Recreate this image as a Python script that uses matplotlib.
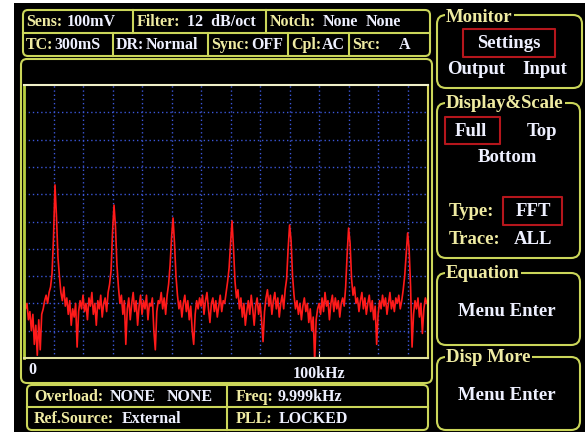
import numpy as np
import matplotlib
matplotlib.use('Agg')
import matplotlib.pyplot as plt
from matplotlib.patches import FancyBboxPatch, Rectangle

# FFT trace of the lock-in display, dB, one value every 0.5 kHz from 0 Hz
bin_khz = 0.5
level_db = [
    -79, -82, -80, -86, -83, -90, -84, -95, -88, -99, -86, -97, -84, -82, -79, -77, -80, -76, -74, -69,
    -56, -36.6, -48, -63, -70, -76, -79, -74, -81, -78, -84, -79, -88, -82, -85, -80, -96, -83, -79, -82,
    -77, -83, -80, -86, -78, -81, -76, -84, -80, -88, -79, -82, -77, -85, -80, -78, -83, -76, -73, -68,
    -54, -44, -52, -66, -74, -80, -77, -84, -79, -95, -82, -78, -86, -80, -76, -83, -79, -88, -81, -77,
    -84, -79, -82, -77, -86, -80, -81, -78, -90, -97, -83, -79, -80, -76, -82, -78, -84, -77, -73, -66,
    -56, -48.7, -58, -70, -77, -82, -79, -85, -80, -77, -83, -79, -86, -81, -90, -95, -84, -79, -82, -78,
    -81, -77, -84, -79, -76, -82, -87, -80, -78, -83, -79, -85, -81, -77, -83, -79, -80, -76, -72, -67,
    -58, -49.8, -60, -72, -78, -75, -82, -78, -85, -80, -88, -83, -79, -84, -77, -82, -88, -81, -78, -84,
    -80, -86, -94, -83, -78, -75, -81, -77, -84, -79, -76, -82, -78, -85, -80, -77, -82, -75, -71, -60,
    -51.3, -57, -70, -77, -82, -79, -84, -80, -86, -81, -78, -83, -80, -87, -82, -90, -85, -101, -86, -82,
    -80, -84, -78, -83, -76, -81, -79, -86, -80, -77, -83, -78, -82, -79, -85, -80, -78, -81, -74, -62,
    -52.4, -58, -71, -77, -74, -80, -78, -83, -79, -76, -82, -78, -84, -80, -77, -83, -79, -86, -81, -95,
    -84, -79, -82, -77, -81, -78, -84, -80, -76, -82, -79, -83, -78, -80, -77, -82, -79, -75, -70, -62,
    -54.2, -60, -74, -96, -84, -79, -82, -78, -85, -80, -91, -82, -78, -80,
]
span_khz = 136.9
grid_khz = [10, 20, 30, 40, 50, 60, 70, 80, 90, 100, 110, 120, 130]
grid_db = [-10, -20, -30, -40, -50, -60, -70, -80, -90]

EDGE = '#cbd65a'
LABEL = '#efeba2'
VALUE = '#eef0ff'
RED = '#b5161c'
FONT = 'Liberation Serif'
SS = 11.5   # status text size
MS = 13.5   # menu text size

fig = plt.figure(figsize=(5.85, 4.32), dpi=100, facecolor='white')
ax0 = fig.add_axes([0, 0, 1, 1])
ax0.set_xlim(0, 585)
ax0.set_ylim(432, 0)
ax0.axis('off')
ax0.add_patch(Rectangle((14, 3), 571, 429, facecolor='black', edgecolor='none'))


def box(x0, y0, x1, y1, r=5, color=EDGE, lw=1.5):
    ax0.add_patch(FancyBboxPatch((x0, y0), x1 - x0, y1 - y0,
                                 boxstyle="round,pad=0,rounding_size=%g" % r,
                                 facecolor='none', edgecolor=color, lw=lw))


def txt(x, y, s, color=VALUE, size=SS, ha='left', bg=False):
    t = ax0.text(x, y, s, color=color, fontsize=size, family=FONT,
                 fontweight='bold', ha=ha, va='center')
    if bg:
        t.set_bbox(dict(facecolor='black', edgecolor='none', pad=1))
    return t


# top status box
box(23, 10, 430, 56)
ax0.plot([23, 430], [33, 33], color=EDGE, lw=1.5)
for x in [133, 266]:
    ax0.plot([x, x], [10, 33], color=EDGE, lw=1.5)
for x in [113, 208, 288, 349]:
    ax0.plot([x, x], [33, 56], color=EDGE, lw=1.5)
txt(26, 22, "Sens:", LABEL)
txt(67, 22, "100mV")
txt(137, 22, "Filter:", LABEL)
txt(187, 22, "12  dB/oct")
txt(270, 22, "Notch:", LABEL)
txt(323, 22, "None")
txt(366, 22, "None")
txt(26, 45, "TC:", LABEL)
txt(54, 45, "300mS")
txt(116, 45, "DR:")
txt(146, 45, "Normal")
txt(211, 45, "Sync:", LABEL)
txt(251, 45, "OFF")
txt(291, 45, "Cpl:", LABEL)
txt(322, 45, "AC")
txt(352, 45, "Src:", LABEL)
txt(399, 45, "A")

# plot frame
box(21, 59, 432, 383, r=6)

# spectrum axes
ax = fig.add_axes([24 / 585, (432 - 358) / 432, 404 / 585, 273 / 432])
ax.set_zorder(2)
ax.set_facecolor('black')
for g in grid_khz:
    ax.axvline(g, color='#3b56d8', lw=1, ls=(0, (1, 2)))
for g in grid_db:
    ax.axhline(g, color='#3b56d8', lw=1, ls=(0, (1, 2)))
freq = np.arange(len(level_db)) * bin_khz
ax.plot(freq, level_db, color='#ff1a1a', lw=1.2)
ax.set_xlim(0, span_khz)
ax.set_ylim(-100, 0)
ax.set_yticks([])
ax.set_xticks([100])
ax.set_xticklabels(['100kHz'], color=VALUE, fontsize=SS, family=FONT,
                   fontweight='bold')
ax.tick_params(axis='x', direction='in', length=5, color='#f0f0d0', pad=6)
ax.spines['left'].set_color('#b8d040')
ax.spines['left'].set_linewidth(2)
ax.spines['top'].set_color('#f0f0c8')
ax.spines['right'].set_color('#d8d860')
ax.spines['bottom'].set_color('#e0e0a0')
for s in ['top', 'right', 'bottom']:
    ax.spines[s].set_linewidth(1.5)
txt(28, 370, "0")

# bottom status box
box(27, 385, 428, 430)
ax0.plot([27, 428], [407, 407], color=EDGE, lw=1.5)
ax0.plot([227, 227], [385, 430], color=EDGE, lw=1.5)
txt(34, 397, "Overload:", LABEL)
txt(110, 397, "NONE")
txt(167, 397, "NONE")
txt(236, 397, "Freq:", LABEL)
txt(278, 397, "9.999kHz")
txt(34, 419, "Ref.Source:", LABEL)
txt(122, 419, "External")
txt(236, 419, "PLL:", LABEL)
txt(279, 419, "LOCKED")

# right side menus
box(437, 15, 582, 88, r=9)
txt(446, 17, "Monitor", LABEL, MS, bg=True)
box(463, 29, 555, 57, r=0.1, color=RED)
txt(509, 43, "Settings", VALUE, MS, ha='center')
txt(476, 70, "Output", VALUE, MS, ha='center')
txt(545, 70, "Input", VALUE, MS, ha='center')

box(437, 103, 580, 258, r=9)
txt(446, 103, "Display&Scale", LABEL, MS, bg=True)
box(445, 117, 500, 144, r=0.1, color=RED)
txt(471, 131, "Full", VALUE, MS, ha='center')
txt(542, 131, "Top", VALUE, MS, ha='center')
txt(507, 158, "Bottom", VALUE, MS, ha='center')
txt(449, 212, "Type:", LABEL, MS)
box(503, 197, 562, 225, r=0.1, color=RED)
txt(533, 211, "FFT", VALUE, MS, ha='center')
txt(449, 240, "Trace:", LABEL, MS)
txt(533, 240, "ALL", VALUE, MS, ha='center')

box(437, 273, 580, 345, r=9)
txt(446, 273, "Equation", LABEL, MS, bg=True)
txt(507, 312, "Menu Enter", VALUE, MS, ha='center')

box(437, 357, 580, 430, r=9)
txt(446, 357, "Disp More", LABEL, MS, bg=True)
txt(507, 395, "Menu Enter", VALUE, MS, ha='center')

fig.savefig('out.png', dpi=100, facecolor='white')
